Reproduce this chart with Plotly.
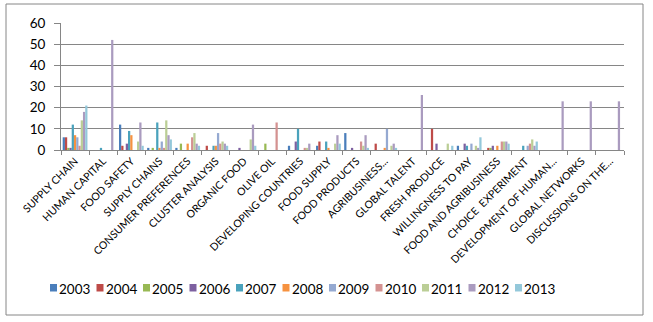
import plotly.graph_objects as go

categories = ["SUPPLY CHAIN", "HUMAN CAPITAL", "FOOD SAFETY", "SUPPLY CHAINS",
              "CONSUMER PREFERENCES", "CLUSTER ANALYSIS", "ORGANIC FOOD", "OLIVE OIL",
              "DEVELOPING COUNTRIES", "FOOD SUPPLY", "FOOD PRODUCTS", "AGRIBUSINESS...",
              "GLOBAL TALENT", "FRESH PRODUCE", "WILLINGNESS TO PAY", "FOOD AND AGRIBUSINESS",
              "CHOICE  EXPERIMENT", "DEVELOPMENT OF HUMAN...", "GLOBAL NETWORKS",
              "DISCUSSIONS ON THE..."]

years = ["2003", "2004", "2005", "2006", "2007", "2008", "2009", "2010", "2011", "2012", "2013"]

v2003 = [6, 0, 12, 1, 1, 0, 0, 0, 2, 2, 8, 0, 0, 0, 2, 0, 0, 0, 0, 0]
v2004 = [6, 0, 2, 0, 0, 2, 0, 0, 0, 4, 0, 3, 0, 10, 0, 1, 0, 0, 0, 0]
v2005 = [1, 0, 0, 1, 3, 0, 0, 3, 0, 0, 0, 0, 0, 0, 0, 1, 0, 0, 0, 0]
v2006 = [1, 0, 3, 0, 0, 0, 1, 0, 4, 0, 1, 0, 0, 3, 3, 2, 0, 0, 0, 0]
v2007 = [12, 1, 9, 13, 0, 2, 0, 0, 10, 4, 0, 0, 0, 0, 2, 0, 2, 0, 0, 0]
v2008 = [7, 0, 7, 1, 3, 2, 0, 0, 0, 1, 0, 1, 0, 0, 0, 2, 0, 0, 0, 0]
v2009 = [6, 0, 0, 4, 0, 8, 0, 0, 0, 0, 0, 10, 0, 0, 3, 0, 2, 0, 0, 0]
v2010 = [2, 0, 0, 1, 6, 3, 0, 13, 1, 0, 4, 0, 0, 0, 0, 4, 3, 0, 0, 0]
v2011 = [14, 0, 4, 14, 8, 4, 5, 0, 1, 3, 2, 2, 0, 3, 2, 4, 5, 0, 0, 0]
v2012 = [18, 52, 13, 7, 3, 3, 12, 0, 3, 7, 7, 3, 26, 0, 1, 4, 2, 23, 23, 23]
v2013 = [21, 0, 2, 5, 2, 2, 2, 0, 0, 3, 1, 1, 0, 2, 6, 3, 4, 0, 0, 0]

series = [v2003, v2004, v2005, v2006, v2007, v2008, v2009, v2010, v2011, v2012, v2013]

colors = ["#4A7EBB", "#BE4B48", "#98B954", "#7D60A0", "#4AA2BC", "#F69240",
          "#95A9D1", "#D49291", "#BBCE96", "#AA9BBF", "#94C8DA"]

FONT = "Lato"
W, H = 653, 322
ML, MR, MT, MB = 61, 29, 23, 172
PW, PH = W - ML - MR, H - MT - MB

def px_x(p):
    return (p - ML) / PW

def px_y(p):
    return (H - MB - p) / PH

fig = go.Figure()
for name, vals, col in zip(years, series, colors):
    fig.add_trace(go.Bar(x=categories, y=vals, name=name, marker_color=col,
                         marker_line_width=0, showlegend=False))

shapes = [dict(type="rect", xref="paper", yref="paper",
               x0=px_x(6), x1=px_x(643), y0=px_y(315), y1=px_y(4),
               line=dict(color="#868686", width=1), fillcolor="rgba(0,0,0,0)", layer="below")]
annotations = []
step = 46.5
for i, (name, col) in enumerate(zip(years, colors)):
    x0 = 50 + i * step
    shapes.append(dict(type="rect", xref="paper", yref="paper",
                       x0=px_x(x0), x1=px_x(x0 + 7), y0=px_y(291.5), y1=px_y(284),
                       line=dict(width=0), fillcolor=col))
    annotations.append(dict(text=name, xref="paper", yref="paper",
                            x=px_x(x0 + 7), y=px_y(288.5), xanchor="left", yanchor="middle",
                            showarrow=False, font=dict(family=FONT, size=13.5, color="#000000")))

fig.update_layout(
    width=W, height=H,
    margin=dict(l=ML, r=MR, t=MT, b=MB),
    paper_bgcolor="white", plot_bgcolor="white",
    barmode="group", bargap=0.12, bargroupgap=0,
    showlegend=False,
    shapes=shapes, annotations=annotations,
    font=dict(family=FONT, color="#000000"),
)
fig.update_xaxes(type="category", range=[-0.5, len(categories) - 0.5],
                 showline=True, linecolor="#868686", linewidth=1,
                 ticks="outside", tickson="boundaries", ticklen=4, tickcolor="#868686",
                 tickangle=-45, tickfont=dict(family=FONT, size=10.5, color="#000000"),
                 showgrid=False, automargin=False)
fig.update_yaxes(range=[0, 60], dtick=10, showline=True, linecolor="#868686", linewidth=1,
                 ticks="outside", ticklen=6, tickcolor="#868686", ticklabelstandoff=6,
                 showgrid=True, gridcolor="#868686", gridwidth=1, zeroline=False,
                 tickfont=dict(family=FONT, size=13.5, color="#000000"), automargin=False)

fig.write_html("out.html")
